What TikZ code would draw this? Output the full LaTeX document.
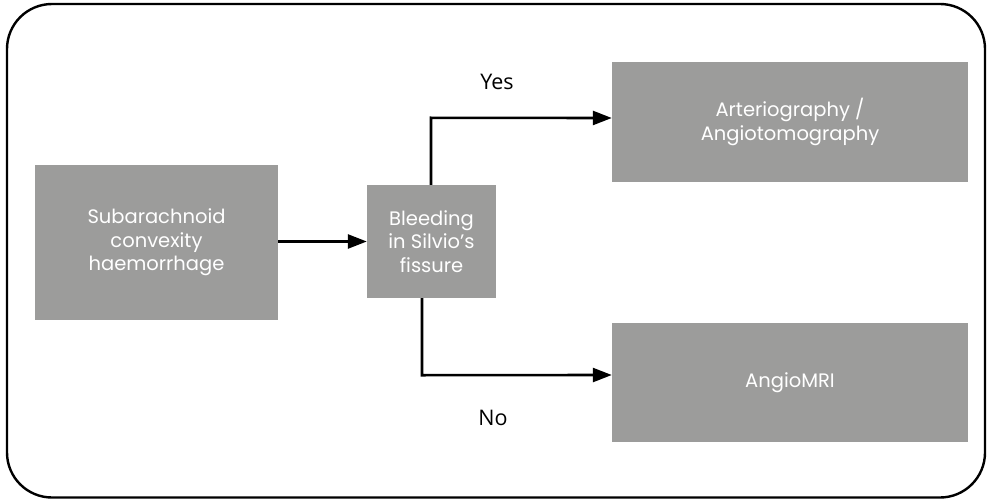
\documentclass[tikz,border=0pt]{standalone}
\usepackage{fontspec}
\setmainfont{Poppins}
\newfontfamily\labelfont{Open Sans}
\usetikzlibrary{arrows.meta}
\definecolor{boxgray}{HTML}{9C9C9B}
\tikzset{
  graybox/.style={fill=boxgray, draw=none, text=white, align=center, font=\fontsize{19.5}{23.5}\selectfont, inner sep=0pt},
  conn/.style={line width=2.6pt, -{Triangle[length=19pt,width=14pt]}},
  lbl/.style={font=\labelfont\fontsize{21.5}{24}\selectfont, text=black}
}
\begin{document}
\begin{tikzpicture}[x=1pt,y=-1pt]
\useasboundingbox (0,0) rectangle (987,500);
\draw[line width=2.4pt, rounded corners=45pt] (7,4) rectangle (985,497.5);
\node[graybox, minimum width=243pt, minimum height=155pt] (sah) at (156.5,242.5) {Subarachnoid\\convexity\\haemorrhage};
\node[graybox, minimum width=129pt, minimum height=113pt] (bleed) at (431.5,241.5) {Bleeding\\in Silvio’s\\fissure};
\node[graybox, minimum width=356pt, minimum height=120pt] (arterio) at (790,122) {Arteriography /\\Angiotomography};
\node[graybox, minimum width=356pt, minimum height=119pt] (mri) at (790,382.5) {AngioMRI};
\draw[conn] (sah.east |- bleed.west) -- (bleed.west);
\draw[conn] ([xshift=-0.5pt]bleed.north) -- ++(0,-67) -- (arterio.west |- 0,118);
\draw[conn] ([xshift=-9.5pt]bleed.south) -- ++(0,77) -- (mri.west |- 0,375);
\node[lbl] (yes) at (497,82) {Yes};
\node[lbl] (no) at (493,418) {No};
\end{tikzpicture}
\end{document}
